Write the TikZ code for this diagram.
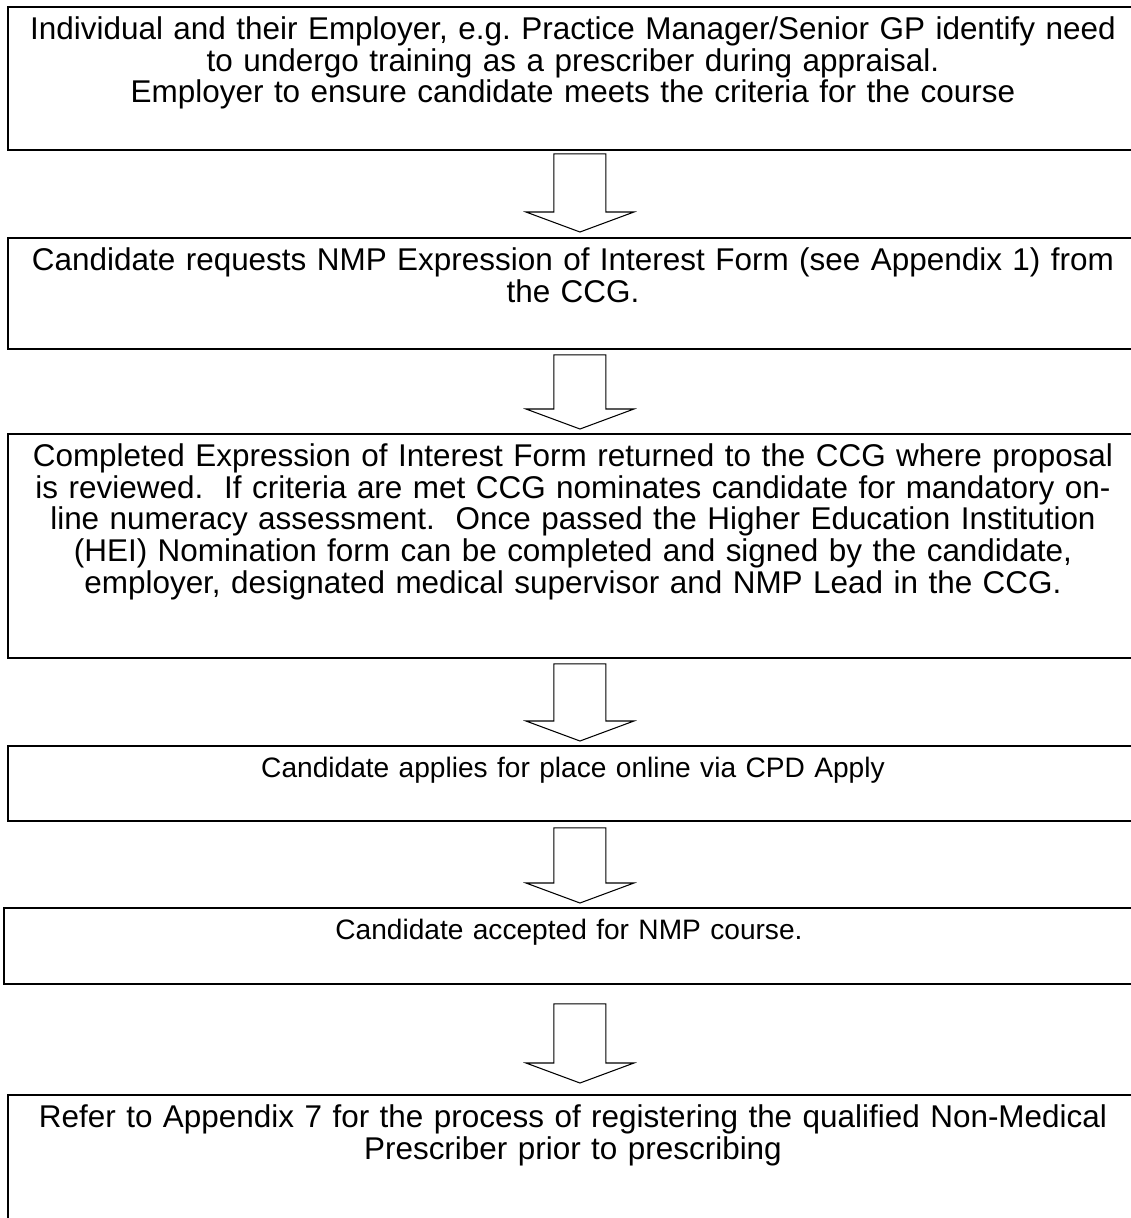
\documentclass[tikz,border=0pt]{standalone}
\usepackage{fontspec}
\setmainfont{Liberation Sans}
\usetikzlibrary{positioning,calc}
\frenchspacing

\begin{document}
\begin{tikzpicture}[x=0.02cm,y=-0.02cm,
			stepbox/.style={draw,line width=1.1pt,anchor=north west,minimum width=1130*\px,inner sep=0pt},
			steptext/.style={anchor=north,align=center,text width=1126*\px,inner xsep=0pt,inner ysep=5.8pt,font=\fontsize{17.9}{18.1}\selectfont},
			short text/.style={steptext,inner ysep=6.7pt,font=\fontsize{16}{18.1}\selectfont},
			blockarrow/.style={draw,line width=0.6pt,fill=white,line join=miter}
			]

			\def \px {0.02cm}
			\def \flowarrow #1#2{\draw[blockarrow] ($(#1)+(-26,0)$) -- ($(#1)+(26,0)$) -- ($(#2)+(26,-20)$) -- ($(#2)+(54,-20)$) -- (#2) -- ($(#2)+(-54,-20)$) -- ($(#2)+(-26,-20)$) -- cycle;}

			\useasboundingbox (0,0) rectangle (1131,1218);
			\clip (0,0) rectangle (1131,1218);

			% the six steps
			\node[stepbox,minimum height=143*\px] at (7,6) (b1) {};
			\node[steptext] at (b1.north) (t1) {Individual and their Employer, e.g. Practice Manager/Senior GP identify need\\ to undergo training as a prescriber during appraisal.\\ Employer to ensure candidate meets the criteria for the course};

			\node[stepbox,minimum height=111*\px] at (7,237) (b2) {};
			\node[steptext] at (b2.north) (t2) {Candidate requests NMP Expression of Interest Form (see Appendix 1) from\\ the CCG.};

			\node[stepbox,minimum height=224*\px] at (7,433) (b3) {};
			\node[steptext] at (b3.north) (t3) {Completed Expression of Interest Form returned to the CCG where proposal\\ is reviewed.\ \ If criteria are met CCG nominates candidate for mandatory on-\\ line numeracy assessment.\ \ Once passed the Higher Education Institution\\ (HEI) Nomination form can be completed and signed by the candidate,\\ employer, designated medical supervisor and NMP Lead in the CCG.};

			\node[stepbox,minimum height=75*\px] at (7,745) (b4) {};
			\node[short text] at (b4.north) (t4) {Candidate applies for place online via CPD Apply};

			\node[stepbox,minimum height=76*\px] at (3,907) (b5) {};
			\node[short text] at (b5.north) (t5) {Candidate accepted for NMP course.};

			\node[stepbox,minimum height=150*\px] at (7,1094) (b6) {};
			\node[steptext] at (b6.north) (t6) {Refer to Appendix 7 for the process of registering the qualified Non-Medical\\ Prescriber prior to prescribing};

			% arrow ends
			\coordinate (a1s) at ($(b1.south)+(7,3)$);
			\coordinate (a1t) at ($(b2.north)+(7,-5)$);
			\coordinate (a2s) at ($(b2.south)+(7,5)$);
			\coordinate (a2t) at ($(b3.north)+(7,-4)$);
			\coordinate (a3s) at ($(b3.south)+(7,5)$);
			\coordinate (a3t) at ($(b4.north)+(7,-4)$);
			\coordinate (a4s) at ($(b4.south)+(7,6)$);
			\coordinate (a4t) at ($(b5.north)+(11,-4)$);
			\coordinate (a5s) at ($(b5.south)+(11,19)$);
			\coordinate (a5t) at ($(b6.north)+(7,-11)$);

			\flowarrow{a1s}{a1t}
			\flowarrow{a2s}{a2t}
			\flowarrow{a3s}{a3t}
			\flowarrow{a4s}{a4t}
			\flowarrow{a5s}{a5t}
		\end{tikzpicture}
\end{document}
